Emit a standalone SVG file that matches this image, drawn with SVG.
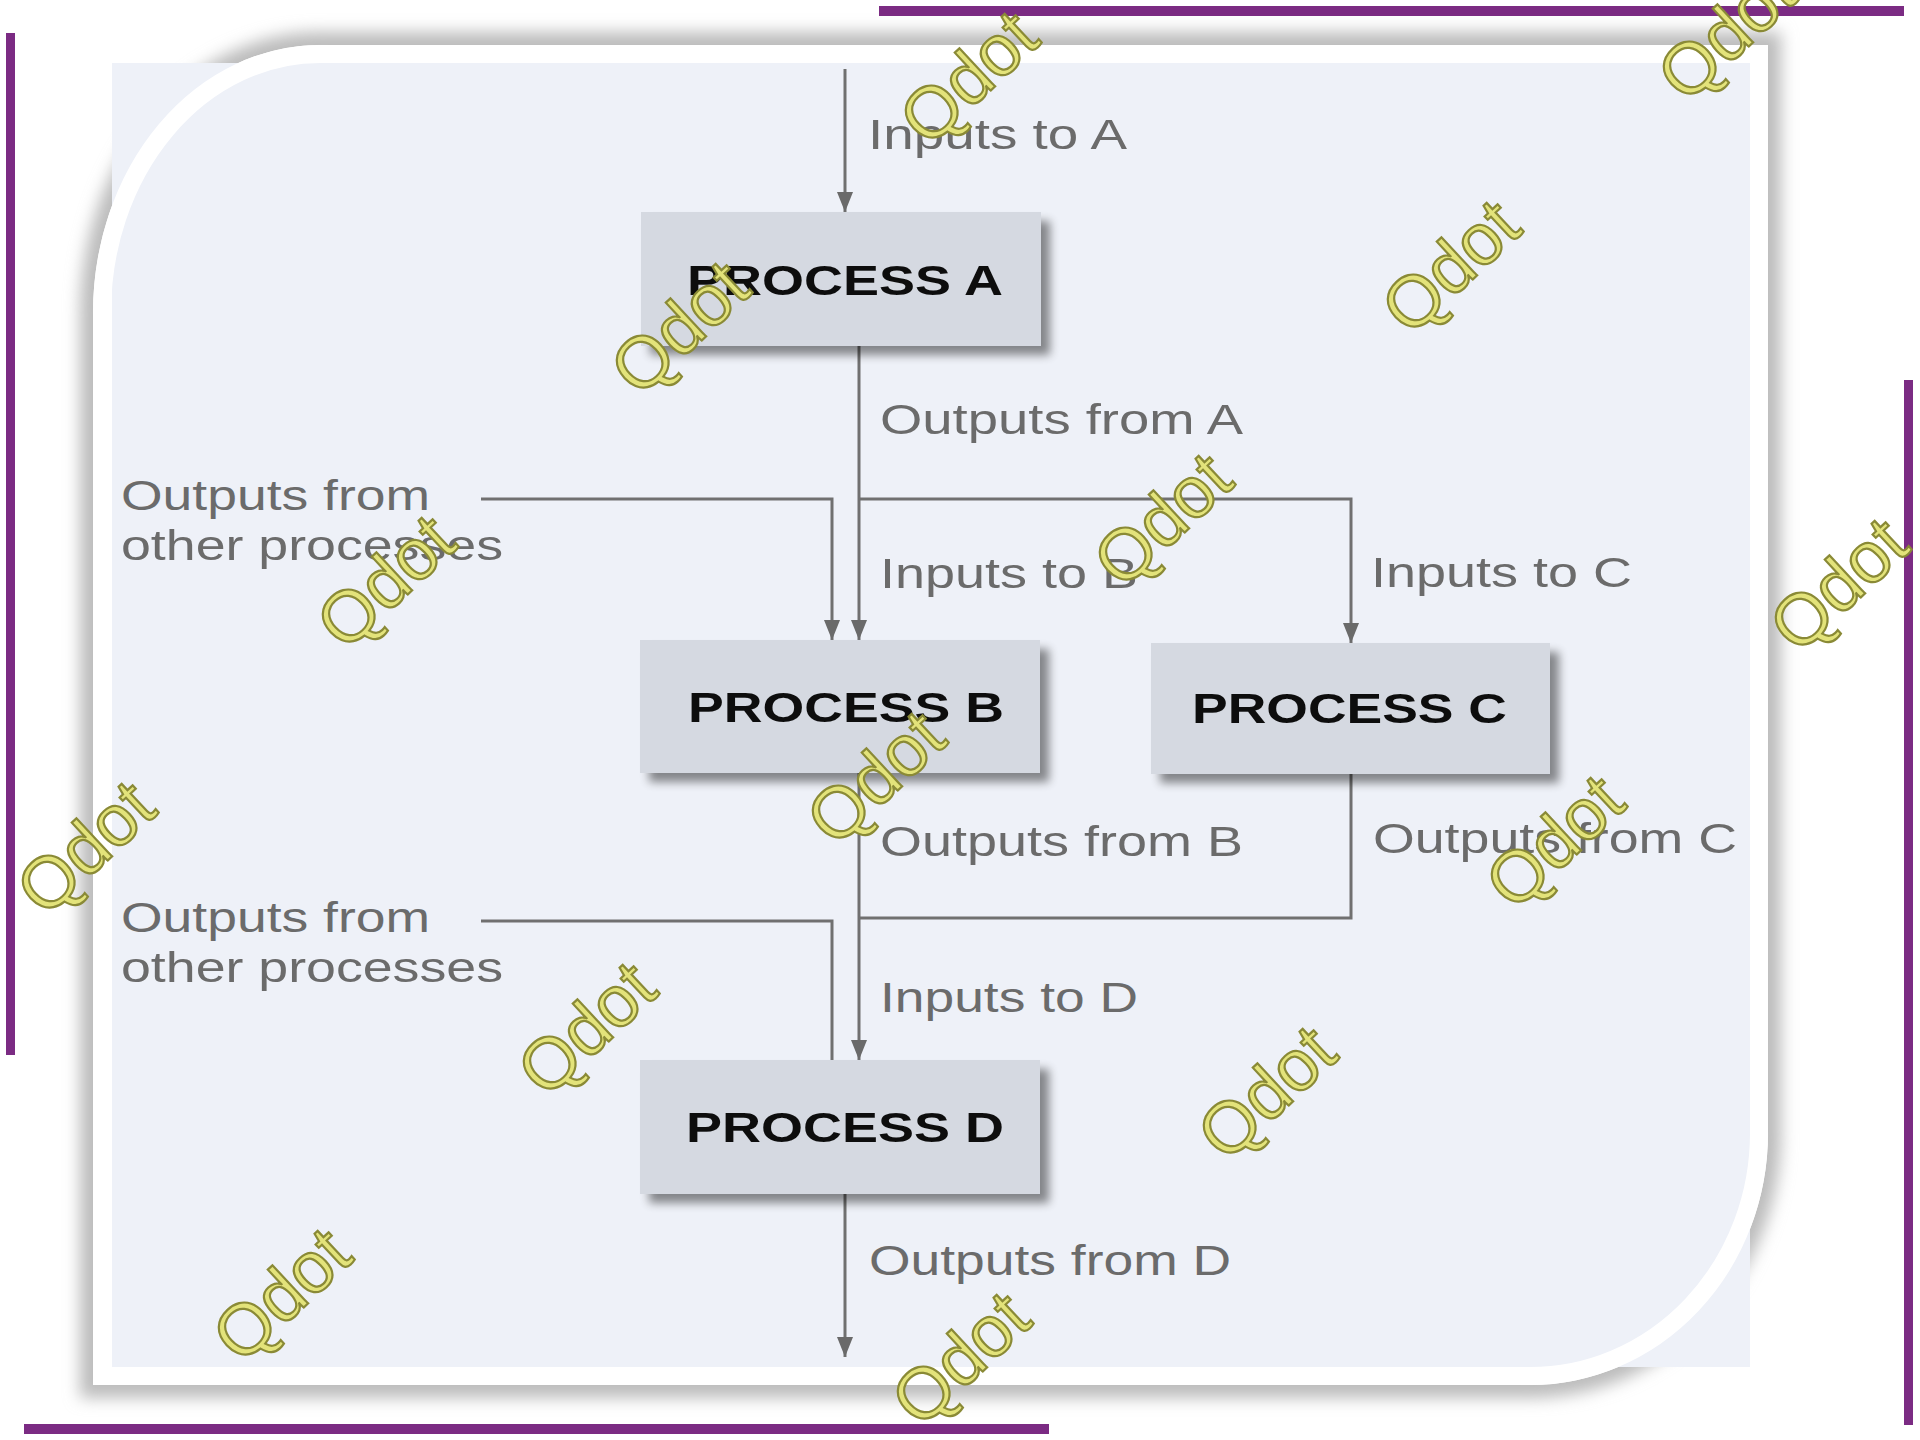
<svg xmlns="http://www.w3.org/2000/svg" width="1920" height="1440" viewBox="0 0 1920 1440">
  <defs>
    <style>
      .box { fill: #d5d9e1; }
      .boxText { font-family: "Liberation Sans", Arial, sans-serif; font-weight: bold; font-size: 42px; fill: #111111; }
      .label { font-family: "Liberation Sans", Arial, sans-serif; font-size: 43px; fill: #6b6b6b; }
      .wire { fill: none; stroke: #707070; stroke-width: 3; }
      .bar { fill: #7b2b83; }
      .mark { font-family: "Liberation Sans", Arial, sans-serif; font-size: 72px; fill: #e3e37a; stroke: #8a8a36; stroke-width: 2.2; text-anchor: middle; }
    </style>
    <marker id="arrow" markerUnits="userSpaceOnUse" markerWidth="20" markerHeight="16" refX="20" refY="8" orient="auto" viewBox="0 0 20 16">
      <path d="M0,0 L20,8 L0,16 Z" fill="#6a6a6a"/>
    </marker>
    <filter id="cardShadow" x="-10%" y="-10%" width="120%" height="120%">
      <feGaussianBlur stdDeviation="8"/>
    </filter>
    <filter id="boxShadow" x="-10%" y="-15%" width="130%" height="150%">
      <feGaussianBlur in="SourceAlpha" stdDeviation="5"/>
      <feOffset dx="9" dy="9"/>
      <feComponentTransfer><feFuncA type="linear" slope="0.45"/></feComponentTransfer>
      <feMerge><feMergeNode/><feMergeNode in="SourceGraphic"/></feMerge>
    </filter>
  </defs>

  <rect width="1920" height="1440" fill="#ffffff"/>

  <!-- purple corner bars -->
  <g id="bars">
    <rect class="bar" x="879" y="6" width="1025" height="10"/>
    <rect class="bar" x="6" y="33" width="9" height="1022"/>
    <rect class="bar" x="1904" y="380" width="9" height="1045"/>
    <rect class="bar" x="24" y="1424" width="1025" height="10"/>
  </g>

  <!-- card with rounded top-left and bottom-right corners -->
  <g id="card">
    <path d="M320,45 H1768 V1133 A238 252 0 0 1 1530 1385 H93 V313 A227 268 0 0 1 320 45 Z" fill="#bcbcbc" stroke="#bcbcbc" stroke-width="26" filter="url(#cardShadow)"/>
    <path d="M320,45 H1768 V1133 A238 252 0 0 1 1530 1385 H93 V313 A227 268 0 0 1 320 45 Z" fill="#ffffff"/>
    <rect x="112" y="63" width="1638" height="1304" fill="#eef1f8"/>
    <path d="M320,54 H1759 V1133 A229 243 0 0 1 1530 1376 H102 V313 A218 259 0 0 1 320 54 Z" fill="none" stroke="#ffffff" stroke-width="18"/>
  </g>

  <!-- connectors -->
  <g id="connectors">
    <path class="wire" d="M845,69 V212" marker-end="url(#arrow)"/>
    <path class="wire" d="M859,346 V640" marker-end="url(#arrow)"/>
    <path class="wire" d="M859,499 H1351 V643" marker-end="url(#arrow)"/>
    <path class="wire" d="M481,499 H832 V640" marker-end="url(#arrow)"/>
    <path class="wire" d="M481,921 H832 V1060"/>
    <path class="wire" d="M859,773 V1060" marker-end="url(#arrow)"/>
    <path class="wire" d="M1351,774 V918 H859"/>
    <path class="wire" d="M845,1194 V1357" marker-end="url(#arrow)"/>
  </g>

  <!-- connector labels -->
  <g id="labels">
    <text class="label" x="868" y="149" textLength="259" lengthAdjust="spacingAndGlyphs">Inputs to A</text>
    <text class="label" x="880" y="434" textLength="363" lengthAdjust="spacingAndGlyphs">Outputs from A</text>
    <text class="label" x="880" y="588" textLength="258" lengthAdjust="spacingAndGlyphs">Inputs to B</text>
    <text class="label" x="1371" y="587" textLength="261" lengthAdjust="spacingAndGlyphs">Inputs to C</text>
    <text class="label" x="880" y="856" textLength="363" lengthAdjust="spacingAndGlyphs">Outputs from B</text>
    <text class="label" x="1373" y="853" textLength="364" lengthAdjust="spacingAndGlyphs">Outputs from C</text>
    <text class="label" x="880" y="1012" textLength="258" lengthAdjust="spacingAndGlyphs">Inputs to D</text>
    <text class="label" x="869" y="1275" textLength="362" lengthAdjust="spacingAndGlyphs">Outputs from D</text>
    <text class="label" x="121" y="510" textLength="309" lengthAdjust="spacingAndGlyphs">Outputs from</text>
    <text class="label" x="121" y="560" textLength="382" lengthAdjust="spacingAndGlyphs">other processes</text>
    <text class="label" x="121" y="932" textLength="309" lengthAdjust="spacingAndGlyphs">Outputs from</text>
    <text class="label" x="121" y="982" textLength="382" lengthAdjust="spacingAndGlyphs">other processes</text>
  </g>

  <!-- process nodes -->
  <g id="process-a" filter="url(#boxShadow)">
    <rect class="box" x="641" y="212" width="400" height="134"/>
    <text class="boxText" x="687" y="295" textLength="316" lengthAdjust="spacingAndGlyphs">PROCESS A</text>
  </g>
  <g id="process-b" filter="url(#boxShadow)">
    <rect class="box" x="640" y="640" width="400" height="133"/>
    <text class="boxText" x="688" y="722" textLength="316" lengthAdjust="spacingAndGlyphs">PROCESS B</text>
  </g>
  <g id="process-c" filter="url(#boxShadow)">
    <rect class="box" x="1151" y="643" width="399" height="131"/>
    <text class="boxText" x="1192" y="723" textLength="315" lengthAdjust="spacingAndGlyphs">PROCESS C</text>
  </g>
  <g id="process-d" filter="url(#boxShadow)">
    <rect class="box" x="640" y="1060" width="400" height="134"/>
    <text class="boxText" x="686" y="1142" textLength="318" lengthAdjust="spacingAndGlyphs">PROCESS D</text>
  </g>

  <!-- watermark stamps -->
  <g id="watermarks">
    <text class="mark" transform="translate(969,78) rotate(-43)" y="24">Qdot</text>
    <text class="mark" transform="translate(1727,34) rotate(-43)" y="24">Qdot</text>
    <text class="mark" transform="translate(1451,267) rotate(-43)" y="24">Qdot</text>
    <text class="mark" transform="translate(680,328) rotate(-43)" y="24">Qdot</text>
    <text class="mark" transform="translate(1163,520) rotate(-43)" y="24">Qdot</text>
    <text class="mark" transform="translate(386,582) rotate(-43)" y="24">Qdot</text>
    <text class="mark" transform="translate(1839,585) rotate(-43)" y="24">Qdot</text>
    <text class="mark" transform="translate(876,778) rotate(-43)" y="24">Qdot</text>
    <text class="mark" transform="translate(86,848) rotate(-43)" y="24">Qdot</text>
    <text class="mark" transform="translate(1555,842) rotate(-43)" y="24">Qdot</text>
    <text class="mark" transform="translate(587,1029) rotate(-43)" y="24">Qdot</text>
    <text class="mark" transform="translate(1267,1093) rotate(-43)" y="24">Qdot</text>
    <text class="mark" transform="translate(282,1295) rotate(-43)" y="24">Qdot</text>
    <text class="mark" transform="translate(961,1359) rotate(-43)" y="24">Qdot</text>
  </g>
</svg>
